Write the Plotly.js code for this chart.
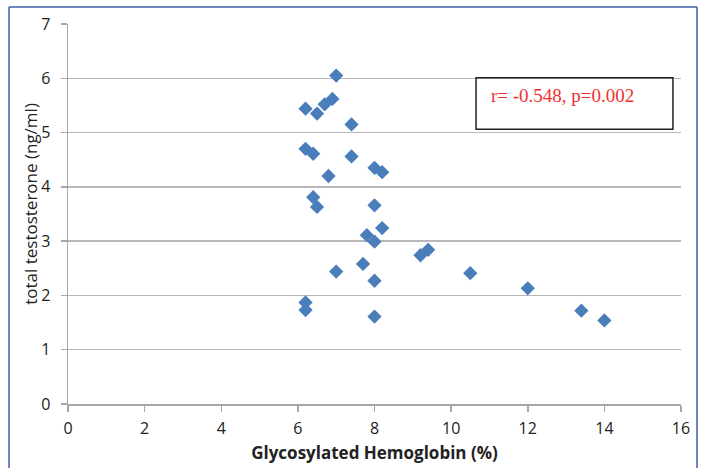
<!DOCTYPE html>
<html>
<head>
<meta charset="utf-8">
<script src="https://cdn.plot.ly/plotly-3.0.1.min.js"></script>
<style>html,body{margin:0;padding:0;background:#fff;}#chart{width:704px;height:468px;}</style>
</head>
<body>
<div id="chart"></div>
<script>
const hba1c = [7.0, 6.2, 6.5, 6.7, 6.9, 7.4, 6.2, 6.4, 7.4, 6.8, 8.0, 8.2, 6.4, 6.5, 8.0, 8.2, 7.8, 8.0, 9.2, 9.4, 7.7, 7.0, 8.0, 10.5, 12.0, 6.2, 6.2, 8.0, 13.4, 14.0];
const testosterone = [6.05, 5.44, 5.35, 5.52, 5.62, 5.15, 4.70, 4.61, 4.56, 4.20, 4.35, 4.27, 3.81, 3.63, 3.66, 3.24, 3.11, 2.99, 2.74, 2.84, 2.58, 2.44, 2.27, 2.41, 2.13, 1.87, 1.73, 1.61, 1.72, 1.54];
const xTicks = [0, 2, 4, 6, 8, 10, 12, 14, 16];
const yTicks = [0, 1, 2, 3, 4, 5, 6, 7];
const xTitle = 'Glycosylated Hemoglobin (%)';
const yTitle = 'total testosterone (ng/ml)';
const statText = "r= -0.548, p=0.002";

const fam = "'Open Sans', sans-serif";
const tickFont = {family: fam, size: 16, color: '#222'};

const trace = {
  x: hba1c, y: testosterone, type: 'scatter', mode: 'markers',
  marker: {symbol: 'diamond', size: 11, color: '#4a7ebb', line: {width: 0}},
  hoverinfo: 'x+y'
};

const blue = '#3b5ca6';
const layout = {
  width: 704, height: 468,
  margin: {l: 68, r: 23, t: 24, b: 64},
  paper_bgcolor: '#fff', plot_bgcolor: '#fff',
  showlegend: false,
  xaxis: {
    range: [0, 16], tickvals: xTicks, ticktext: xTicks.map(String),
    showgrid: false, zeroline: false, showline: true, linecolor: '#a6a6a6', linewidth: 1.5,
    ticks: 'outside', ticklen: 6, tickcolor: '#a6a6a6', tickwidth: 1.5,
    tickfont: tickFont, ticklabelstandoff: 3,
    title: {text: xTitle, font: {family: fam, size: 17, color: '#222', weight: 'bold'}, standoff: 9}
  },
  yaxis: {
    range: [0, 7], tickvals: yTicks, ticktext: yTicks.map(String),
    showgrid: true, gridcolor: '#b8b8b8', gridwidth: 1.5, zeroline: false,
    showline: true, linecolor: '#a6a6a6', linewidth: 1.5,
    ticks: 'outside', ticklen: 6, tickcolor: '#a6a6a6', tickwidth: 1.5,
    tickfont: tickFont, ticklabelstandoff: 7
  },
  shapes: [
    {type: 'rect', xref: 'x', yref: 'y', x0: 10.65, x1: 15.79, y0: 5.06, y1: 6.01, line: {color: '#222', width: 1.5}, fillcolor: 'rgba(0,0,0,0)'},
    {type: 'line', xref: 'paper', yref: 'paper', x0: -0.0962, x1: -0.0962, y0: -0.2, y1: 1.0447, line: {color: blue, width: 1.5}},
    {type: 'line', xref: 'paper', yref: 'paper', x0: -0.0962, x1: 1.0261, y0: 1.0447, y1: 1.0447, line: {color: blue, width: 1.5}},
    {type: 'line', xref: 'paper', yref: 'paper', x0: 1.0261, x1: 1.0261, y0: 1.0447, y1: -0.2, line: {color: blue, width: 1.5}}
  ],
  annotations: [
    {xref: 'x', yref: 'y', x: 10.99, y: 5.68, xanchor: 'left', yanchor: 'middle', showarrow: false,
     text: statText, font: {family: "'Liberation Serif', 'Times New Roman', serif", size: 19, color: '#f03030'}},
    {xref: 'paper', yref: 'paper', x: -0.0625, y: 0.526, xanchor: 'center', yanchor: 'middle', showarrow: false,
     textangle: -90, text: yTitle, font: {family: fam, size: 17, color: '#222'}}
  ]
};

Plotly.newPlot('chart', [trace], layout, {displayModeBar: false, staticPlot: true});
</script>
</body>
</html>
